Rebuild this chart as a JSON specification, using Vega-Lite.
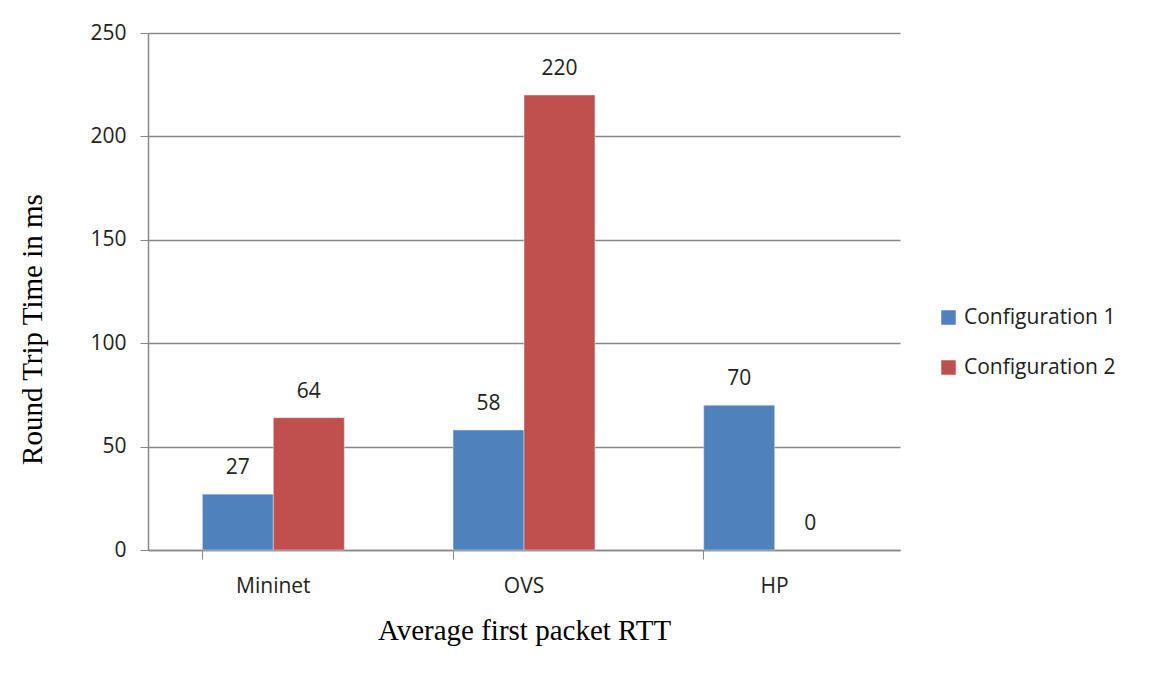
{
  "$schema": "https://vega.github.io/schema/vega-lite/v6.json",
  "autosize": {"type": "none"},
  "padding": {"left": 148, "top": 33, "right": 255, "bottom": 127},
  "width": 752,
  "height": 517,
  "background": "white",
  "data": {
    "values": [
      {"platform": "Mininet", "config": "Configuration 1", "rtt": 27},
      {"platform": "Mininet", "config": "Configuration 2", "rtt": 64},
      {"platform": "OVS", "config": "Configuration 1", "rtt": 58},
      {"platform": "OVS", "config": "Configuration 2", "rtt": 220},
      {"platform": "HP", "config": "Configuration 1", "rtt": 70},
      {"platform": "HP", "config": "Configuration 2", "rtt": 0}
    ]
  },
  "encoding": {
    "x": {
      "field": "platform",
      "type": "nominal",
      "sort": ["Mininet", "OVS", "HP"],
      "scale": {"paddingInner": 0.434, "paddingOuter": 0.217},
      "axis": {
        "title": "Average first packet RTT",
        "titleFont": "Liberation Serif",
        "titleFontSize": 29,
        "titleFontWeight": "normal",
        "titleColor": "#000",
        "titlePadding": 20,
        "labelAngle": 0,
        "labelFont": "Open Sans",
        "labelFontSize": 21,
        "labelColor": "#222",
        "labelPadding": 16,
        "bandPosition": 0,
        "tickSize": 9,
        "tickColor": "#888",
        "domainColor": "#888",
        "domainWidth": 1.5,
        "grid": false
      }
    },
    "xOffset": {"field": "config", "type": "nominal", "scale": {"paddingInner": 0}},
    "y": {
      "field": "rtt",
      "type": "quantitative",
      "scale": {"domain": [0, 250]},
      "axis": {
        "title": "Round Trip Time in ms",
        "titleFont": "Liberation Serif",
        "titleFontSize": 29,
        "titleFontWeight": "normal",
        "titleColor": "#000",
        "titlePadding": 42,
        "titleY": 296,
        "values": [0, 50, 100, 150, 200, 250],
        "labelFont": "Open Sans",
        "labelFontSize": 21,
        "labelColor": "#222",
        "labelPadding": 14,
        "tickSize": 8,
        "tickColor": "#888",
        "domainColor": "#888",
        "domainWidth": 1.5,
        "gridColor": "#888",
        "gridWidth": 1.3
      }
    }
  },
  "layer": [
    {
      "mark": {"type": "bar", "strokeWidth": 1, "strokeOpacity": 0.5},
      "encoding": {
        "color": {
          "field": "config",
          "type": "nominal",
          "scale": {"domain": ["Configuration 1", "Configuration 2"], "range": ["#4F81BD", "#C0504D"]},
          "legend": {
            "title": null,
            "orient": "none",
            "legendX": 790,
            "legendY": 274,
            "symbolType": "square",
            "symbolSize": 210,
            "symbolStrokeWidth": 0,
            "labelFont": "Open Sans",
            "labelFontSize": 21,
            "labelColor": "#222",
            "rowPadding": 28,
            "labelOffset": 5
          }
        },
        "stroke": {"condition": {"test": "datum.rtt > 0", "value": "#dde6f5"}, "value": null}
      }
    },
    {
      "mark": {"type": "text", "dy": -26, "font": "Open Sans", "fontSize": 21, "color": "#222"},
      "encoding": {"text": {"field": "rtt", "type": "quantitative"}}
    }
  ],
  "config": {"view": {"stroke": null}}
}
